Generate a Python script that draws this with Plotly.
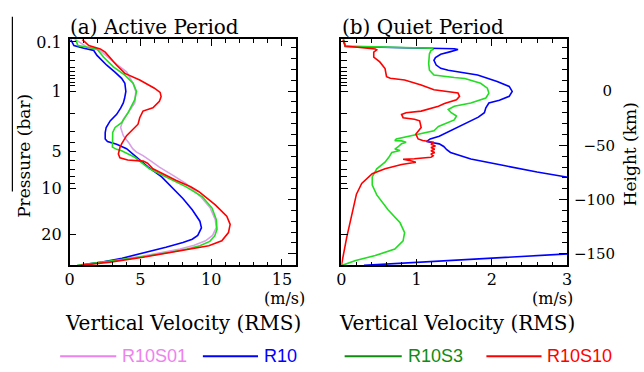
import plotly.graph_objects as go

# ---------------------------------------------------------------------------
# RMS vertical velocity profiles (m/s) against height (km)
# ---------------------------------------------------------------------------

# (a) Active period
active_r10s01_h = [47.7, 46.5, 40.5, 37.4, 26.9, 17.8, 7.2, -0.3, -10.9, -19.9, -26.0, -33.5, -41.1,
                   -48.0, -53.0, -56.0, -59.5, -65.0, -70.0, -77.6, -85.0, -97.2, -107.8, -118.4,
                   -125.9, -133.0, -138.0, -142.0, -145.5, -149.0, -152.5, -156.5, -160.6]
active_r10s01_w = [0.30, 0.53, 1.23, 2.16, 3.09, 4.02, 4.48, 4.67, 4.60, 4.13, 3.79, 3.60, 3.79,
                   4.20, 4.45, 4.70, 5.18, 5.80, 6.34, 7.30, 8.20, 9.25, 9.94, 10.29,
                   10.36, 10.10, 9.60, 8.80, 7.80, 6.40, 5.00, 3.00, 0.53]

active_r10_h = [47.7, 42.0, 39.6, 37.4, 32.9, 23.9, 17.5, 11.8, 7.2, -0.3, -6.6, -10.9, -15.7,
                -21.4, -27.5, -33.5, -38.3, -44.1, -46.5, -48.9, -53.1, -61.0, -70.0, -79.1,
                -90.0, -99.0, -109.3, -119.9, -126.0, -131.0, -133.0, -136.5, -139.5, -144.0,
                -149.0, -154.0, -157.5, -160.6]
active_r10_w = [0.07, 0.30, 1.00, 1.70, 1.93, 2.62, 3.20, 3.67, 3.90, 3.97, 3.88, 3.79, 3.60,
                3.32, 2.86, 2.58, 2.51, 2.51, 2.67, 3.32, 4.02, 4.72, 5.55, 6.50,
                7.30, 8.00, 8.66, 9.20, 9.31, 9.15, 9.05, 8.66, 8.00, 6.80,
                5.30, 3.70, 2.30, 0.65]

active_r10s3_h = [47.7, 42.0, 38.9, 31.4, 22.3, 14.8, 7.2, -0.3, -7.9, -19.9, -29.0, -33.5, -38.0,
                  -45.0, -51.6, -53.7, -55.0, -61.0, -71.6, -76.1, -82.1, -88.0, -97.2, -107.8,
                  -118.4, -127.4, -133.5, -138.5, -142.5, -145.5, -148.5, -152.0, -156.5, -160.6]
active_r10s3_w = [0.42, 0.58, 1.93, 2.39, 3.09, 3.90, 4.48, 4.72, 4.60, 4.13, 3.67, 3.21, 3.04,
                  3.02, 3.02, 3.32, 3.67, 4.60, 5.64, 6.34, 7.27, 8.20, 9.36, 10.06,
                  10.36, 10.41, 10.25, 9.90, 9.20, 8.30, 7.10, 5.50, 3.00, 0.53]

active_r10s10_h = [47.7, 42.0, 38.9, 35.9, 23.9, 16.3, 10.3, 2.7, -1.2, -5.1, -9.4, -15.4, -18.4,
                   -24.5, -30.5, -35.0, -41.1, -48.6, -52.0, -58.0, -61.5, -63.5, -64.5, -66.5,
                   -71.6, -82.1, -88.2, -92.7, -104.8, -115.3, -122.9, -130.4, -138.0, -142.5,
                   -147.0, -153.1, -157.6, -160.6]
active_r10s10_w = [0.88, 1.35, 2.16, 2.51, 3.32, 3.90, 4.95, 5.99, 6.39, 6.46, 6.34, 5.88, 5.18,
                   4.95, 4.83, 4.48, 4.02, 3.67, 3.55, 3.44, 3.55, 4.10, 5.20, 5.50,
                   5.88, 7.50, 8.55, 9.13, 10.29, 11.10, 11.34, 11.22, 10.75, 9.83,
                   7.97, 5.18, 2.86, 0.77]

# (b) Quiet period (no R10S01 run)
quiet_r10_h = [47.7, 41.2, 39.0, 38.3, 36.2, 34.0, 31.0, 28.4, 24.0, 21.0, 19.3, 17.0, 14.8, 8.8,
               4.3, -0.3, -4.8, -8.5, -11.0, -15.4, -19.9, -24.0, -27.5, -33.5, -38.0, -41.5,
               -44.0, -46.5, -47.3, -48.6, -51.0, -54.0, -56.5, -60.0, -62.5, -68.6, -74.6,
               -79.1, -95.0, -120.0, -145.0, -150.2, -156.0, -160.6]
quiet_r10_w = [0.03, 0.05, 1.50, 1.55, 1.44, 1.32, 1.25, 1.23, 1.26, 1.32, 1.42, 1.60, 1.81, 2.07,
               2.23, 2.27, 2.23, 2.10, 1.96, 1.92, 1.90, 1.82, 1.72, 1.55, 1.42, 1.30,
               1.18, 1.13, 1.20, 1.30, 1.36, 1.40, 1.45, 1.60, 1.72, 2.16, 2.60,
               2.99, 4.20, 5.60, 4.30, 3.00, 1.50, 0.30]

quiet_r10s3_h = [47.7, 41.5, 39.5, 38.5, 37.4, 34.4, 25.4, 19.3, 14.8, 13.3, 12.5, 11.6, 7.2, 2.7,
                 -1.8, -6.3, -10.9, -13.9, -16.9, -19.9, -22.9, -26.5, -30.5, -32.6, -36.5,
                 -39.6, -41.7, -44.1, -45.6, -45.9, -47.1, -48.5, -51.0, -53.4, -54.8, -56.5,
                 -60.0, -65.5, -71.6, -79.1, -86.7, -95.7, -109.3, -121.4, -130.4, -138.0,
                 -145.6, -151.6, -156.1, -160.6]
quiet_r10s3_w = [0.03, 0.05, 1.21, 1.22, 1.19, 1.17, 1.16, 1.17, 1.23, 1.37, 1.50, 1.64, 1.85, 1.94,
                 1.96, 1.92, 1.72, 1.50, 1.42, 1.46, 1.53, 1.50, 1.37, 1.29, 1.23,
                 1.02, 0.88, 0.73, 0.71, 0.80, 0.86, 0.80, 0.76, 0.71, 0.78, 0.67,
                 0.64, 0.58, 0.47, 0.41, 0.41, 0.47, 0.62, 0.78, 0.84, 0.82,
                 0.71, 0.45, 0.19, 0.01]

quiet_r10s10_h = [47.7, 41.5, 38.9, 38.0, 36.0, 31.4, 26.9, 20.8, 13.3, 11.8, 10.2, 5.7, 1.2, -0.5,
                  -1.8, -4.8, -7.9, -11.5, -13.9, -18.4, -19.9, -21.5, -24.5, -26.0, -27.4,
                  -33.5, -36.5, -39.6, -44.1, -45.6, -47.1, -48.9, -50.5, -52.0, -53.5, -55.0,
                  -56.5, -58.0, -59.5, -61.0, -62.3, -62.8, -63.8, -65.5, -67.6, -71.6, -76.1,
                  -85.1, -95.0, -115.0, -135.0, -160.6]
quiet_r10s10_w = [0.02, 0.05, 0.45, 0.47, 0.43, 0.43, 0.51, 0.58, 0.60, 0.65, 0.84, 1.06, 1.23, 1.42,
                  1.55, 1.57, 1.53, 1.37, 1.29, 1.06, 0.86, 0.80, 0.82, 0.97, 1.04,
                  1.06, 1.02, 0.99, 1.02, 1.08, 1.23, 1.19, 1.25, 1.19, 1.24, 1.19,
                  1.24, 1.19, 1.22, 1.19, 0.97, 0.82, 0.90, 0.99, 0.80, 0.58, 0.41,
                  0.27, 0.20, 0.13, 0.07, 0.00]

# Pressure scale on the left axis: pressure (bar) and the height (km) where it sits
pressure_major = ["0.1", "1", "5", "10", "20"]
pressure_major_h = [45.3, 0.0, -55.9, -90.1, -132.5]
pressure_minor_h = [35.3, 28.1, 22.2, 18.1, 14.5, 11.3, 8.2, 5.0,        # 0.2 .. 0.9 bar
                    -20.2, -36.9, -47.4,                                    # 2, 3, 4 bar
                    -64.3, -72.5, -78.8, -84.7]                             # 6 .. 9 bar

# Height scale on the right axis (labels padded so they line up on the right)
height_ticks = [-150, -100, -50, 0]
height_labels = ["\u2212150", "\u2212100", "\u2007\u221250", "\u2007\u2007\u20070"]

# Reference levels flagged with triangles beside each panel (km)
flag_heights = [17.2, -14.5, -46.2]

series_names = ["R10S01", "R10", "R10S3", "R10S10"]
line_colors = ["#d9a0e6", "#0000ff", "#22dd22", "#ff0000"]
legend_colors = ["#ee82ee", "#0000ff", "#108c10", "#ff0000"]

H_RANGE = [-160.6, 47.7]
W = 644
H = 372

SERIF = "DejaVu Serif"
tick_font = dict(family=SERIF, size=16, color="black")
right_tick_font = dict(family=SERIF, size=15, color="black")
title_font = dict(family=SERIF, size=20, color="black")
side_font = dict(family=SERIF, size=17, color="black")
unit_font = dict(family=SERIF, size=16, color="black")


def px(x):
    return x / W


def py(y):
    return 1 - y / H


fig = go.Figure()

panels = [
    ("x", "y", [(active_r10s01_w, active_r10s01_h), (active_r10_w, active_r10_h),
                (active_r10s3_w, active_r10s3_h), (active_r10s10_w, active_r10s10_h)]),
    ("x2", "y2", [([], []), (quiet_r10_w, quiet_r10_h),
                  (quiet_r10s3_w, quiet_r10s3_h), (quiet_r10s10_w, quiet_r10s10_h)]),
]

for xa, ya, profiles in panels:
    for (w, h), name, color in zip(profiles, series_names, line_colors):
        if not w:
            continue
        fig.add_trace(go.Scatter(x=w, y=h, mode="lines", name=name,
                                 line=dict(color=color, width=1.6),
                                 xaxis=xa, yaxis=ya, hoverinfo="skip"))

# Triangles just outside the frames (left ones point right, right ones point left)
x_range_a = [0, 16]
x_range_b = [0, 3]
tri = dict(mode="markers", cliponaxis=False, hoverinfo="skip", showlegend=False)
fig.add_trace(go.Scatter(x=[x_range_a[0] - 0.29] * 3, y=flag_heights, xaxis="x", yaxis="y",
                         marker=dict(symbol="triangle-right", size=8, color="black"), **tri))
fig.add_trace(go.Scatter(x=[x_range_a[1] + 0.46] * 3, y=flag_heights, xaxis="x3", yaxis="y3",
                         marker=dict(symbol="triangle-left", size=8, color="black"), **tri))
fig.add_trace(go.Scatter(x=[x_range_b[0] - 0.097] * 3, y=flag_heights, xaxis="x2", yaxis="y2",
                         marker=dict(symbol="triangle-right", size=8, color="black"), **tri))
fig.add_trace(go.Scatter(x=[x_range_b[1] + 0.065] * 3, y=flag_heights, xaxis="x4", yaxis="y4",
                         marker=dict(symbol="triangle-left", size=8, color="black"), **tri))

frame = dict(showline=True, linecolor="black", linewidth=1.5, showgrid=False,
             zeroline=False, ticks="inside", tickcolor="black", tickwidth=1.2)

dom_a = [px(65.7), px(295.7)]
dom_b = [px(341.7), px(571.0)]
dom_y = [py(263.3), py(33.0)]


def x_axes(dom, rng, dtick, minor_dtick, anchor, top_anchor, overlay):
    minor = dict(tick0=0, dtick=minor_dtick, ticks="inside", ticklen=4,
                 tickcolor="black", tickwidth=1)
    bottom = dict(domain=dom, range=rng, anchor=anchor, tick0=0, dtick=dtick, ticklen=7,
                  tickfont=tick_font, ticklabelstandoff=-1, minor=minor, **frame)
    top = dict(overlaying=overlay, side="top", range=rng, anchor=top_anchor, tick0=0,
               dtick=dtick, ticklen=7, showticklabels=False, minor=minor, **frame)
    return bottom, top


def y_axes(anchor, right_anchor, overlay, with_pressure_labels, with_height_labels):
    left = dict(domain=dom_y, range=H_RANGE, anchor=anchor, tickmode="array",
                tickvals=pressure_major_h,
                ticktext=pressure_major if with_pressure_labels else [""] * len(pressure_major),
                ticklen=7, tickfont=tick_font, ticklabelstandoff=3,
                minor=dict(tickmode="array", tickvals=pressure_minor_h, ticks="inside",
                           ticklen=6, tickcolor="black", tickwidth=1), **frame)
    right = dict(overlaying=overlay, side="right", range=H_RANGE, anchor=right_anchor,
                 tickmode="array", tickvals=height_ticks, ticktext=height_labels, ticklen=8,
                 showticklabels=with_height_labels, tickfont=right_tick_font,
                 ticklabelstandoff=2,
                 minor=dict(tickmode="linear", tick0=0, dtick=10, ticks="inside", ticklen=5,
                            tickcolor="black", tickwidth=1), **frame)
    return left, right


xa_b, xa_t = x_axes(dom_a, x_range_a, 5, 1, "y", "y3", "x")
xb_b, xb_t = x_axes(dom_b, x_range_b, 1, 0.2, "y2", "y4", "x2")
ya_l, ya_r = y_axes("x", "x3", "y", True, False)
yb_l, yb_r = y_axes("x2", "x4", "y2", False, True)

annotations = [
    dict(text="(a) Active Period", x=px(64), y=py(20), xanchor="left", yanchor="middle",
         font=title_font),
    dict(text="(b) Quiet Period", x=px(340), y=py(20), xanchor="left", yanchor="middle",
         font=title_font),
    dict(text="Pressure (bar)", x=px(19), y=py(152), textangle=-90, xanchor="center",
         yanchor="middle", font=side_font),
    dict(text="Height (km)", x=px(635), y=py(150), textangle=-90, xanchor="center",
         yanchor="middle", font=side_font),
    dict(text="(m/s)", x=px(284), y=py(297), xanchor="center", yanchor="middle",
         font=unit_font),
    dict(text="(m/s)", x=px(556), y=py(297), xanchor="center", yanchor="middle",
         font=unit_font),
    dict(text="Vertical Velocity (RMS)", x=px(181), y=py(322), xanchor="center",
         yanchor="middle", font=title_font),
    dict(text="Vertical Velocity (RMS)", x=px(459), y=py(322), xanchor="center",
         yanchor="middle", font=title_font),
]

shapes = [dict(type="line", xref="paper", yref="paper", x0=px(7.5), x1=px(7.5),
               y0=py(10), y1=py(188), line=dict(color="black", width=1.2))]

# Legend row under the panels
legend_line_x = [(56, 113), (201, 257), (345, 403), (489, 545)]
legend_y = 356
for (x0, x1), name, color in zip(legend_line_x, series_names, legend_colors):
    shapes.append(dict(type="line", xref="paper", yref="paper", x0=px(x0), x1=px(x1),
                       y0=py(legend_y), y1=py(legend_y), line=dict(color=color, width=2)))
    annotations.append(dict(text=name, x=px(x1 + 4), y=py(legend_y), xanchor="left",
                            yanchor="middle",
                            font=dict(family="Liberation Sans", size=18, color=color)))

for a in annotations:
    a.update(xref="paper", yref="paper", showarrow=False)

fig.update_layout(
    width=W, height=H, margin=dict(l=0, r=0, t=0, b=0),
    paper_bgcolor="white", plot_bgcolor="white", showlegend=False,
    xaxis=xa_b, xaxis3=xa_t, yaxis=ya_l, yaxis3=ya_r,
    xaxis2=xb_b, xaxis4=xb_t, yaxis2=yb_l, yaxis4=yb_r,
    annotations=annotations, shapes=shapes,
)

fig.write_html("out.html")
